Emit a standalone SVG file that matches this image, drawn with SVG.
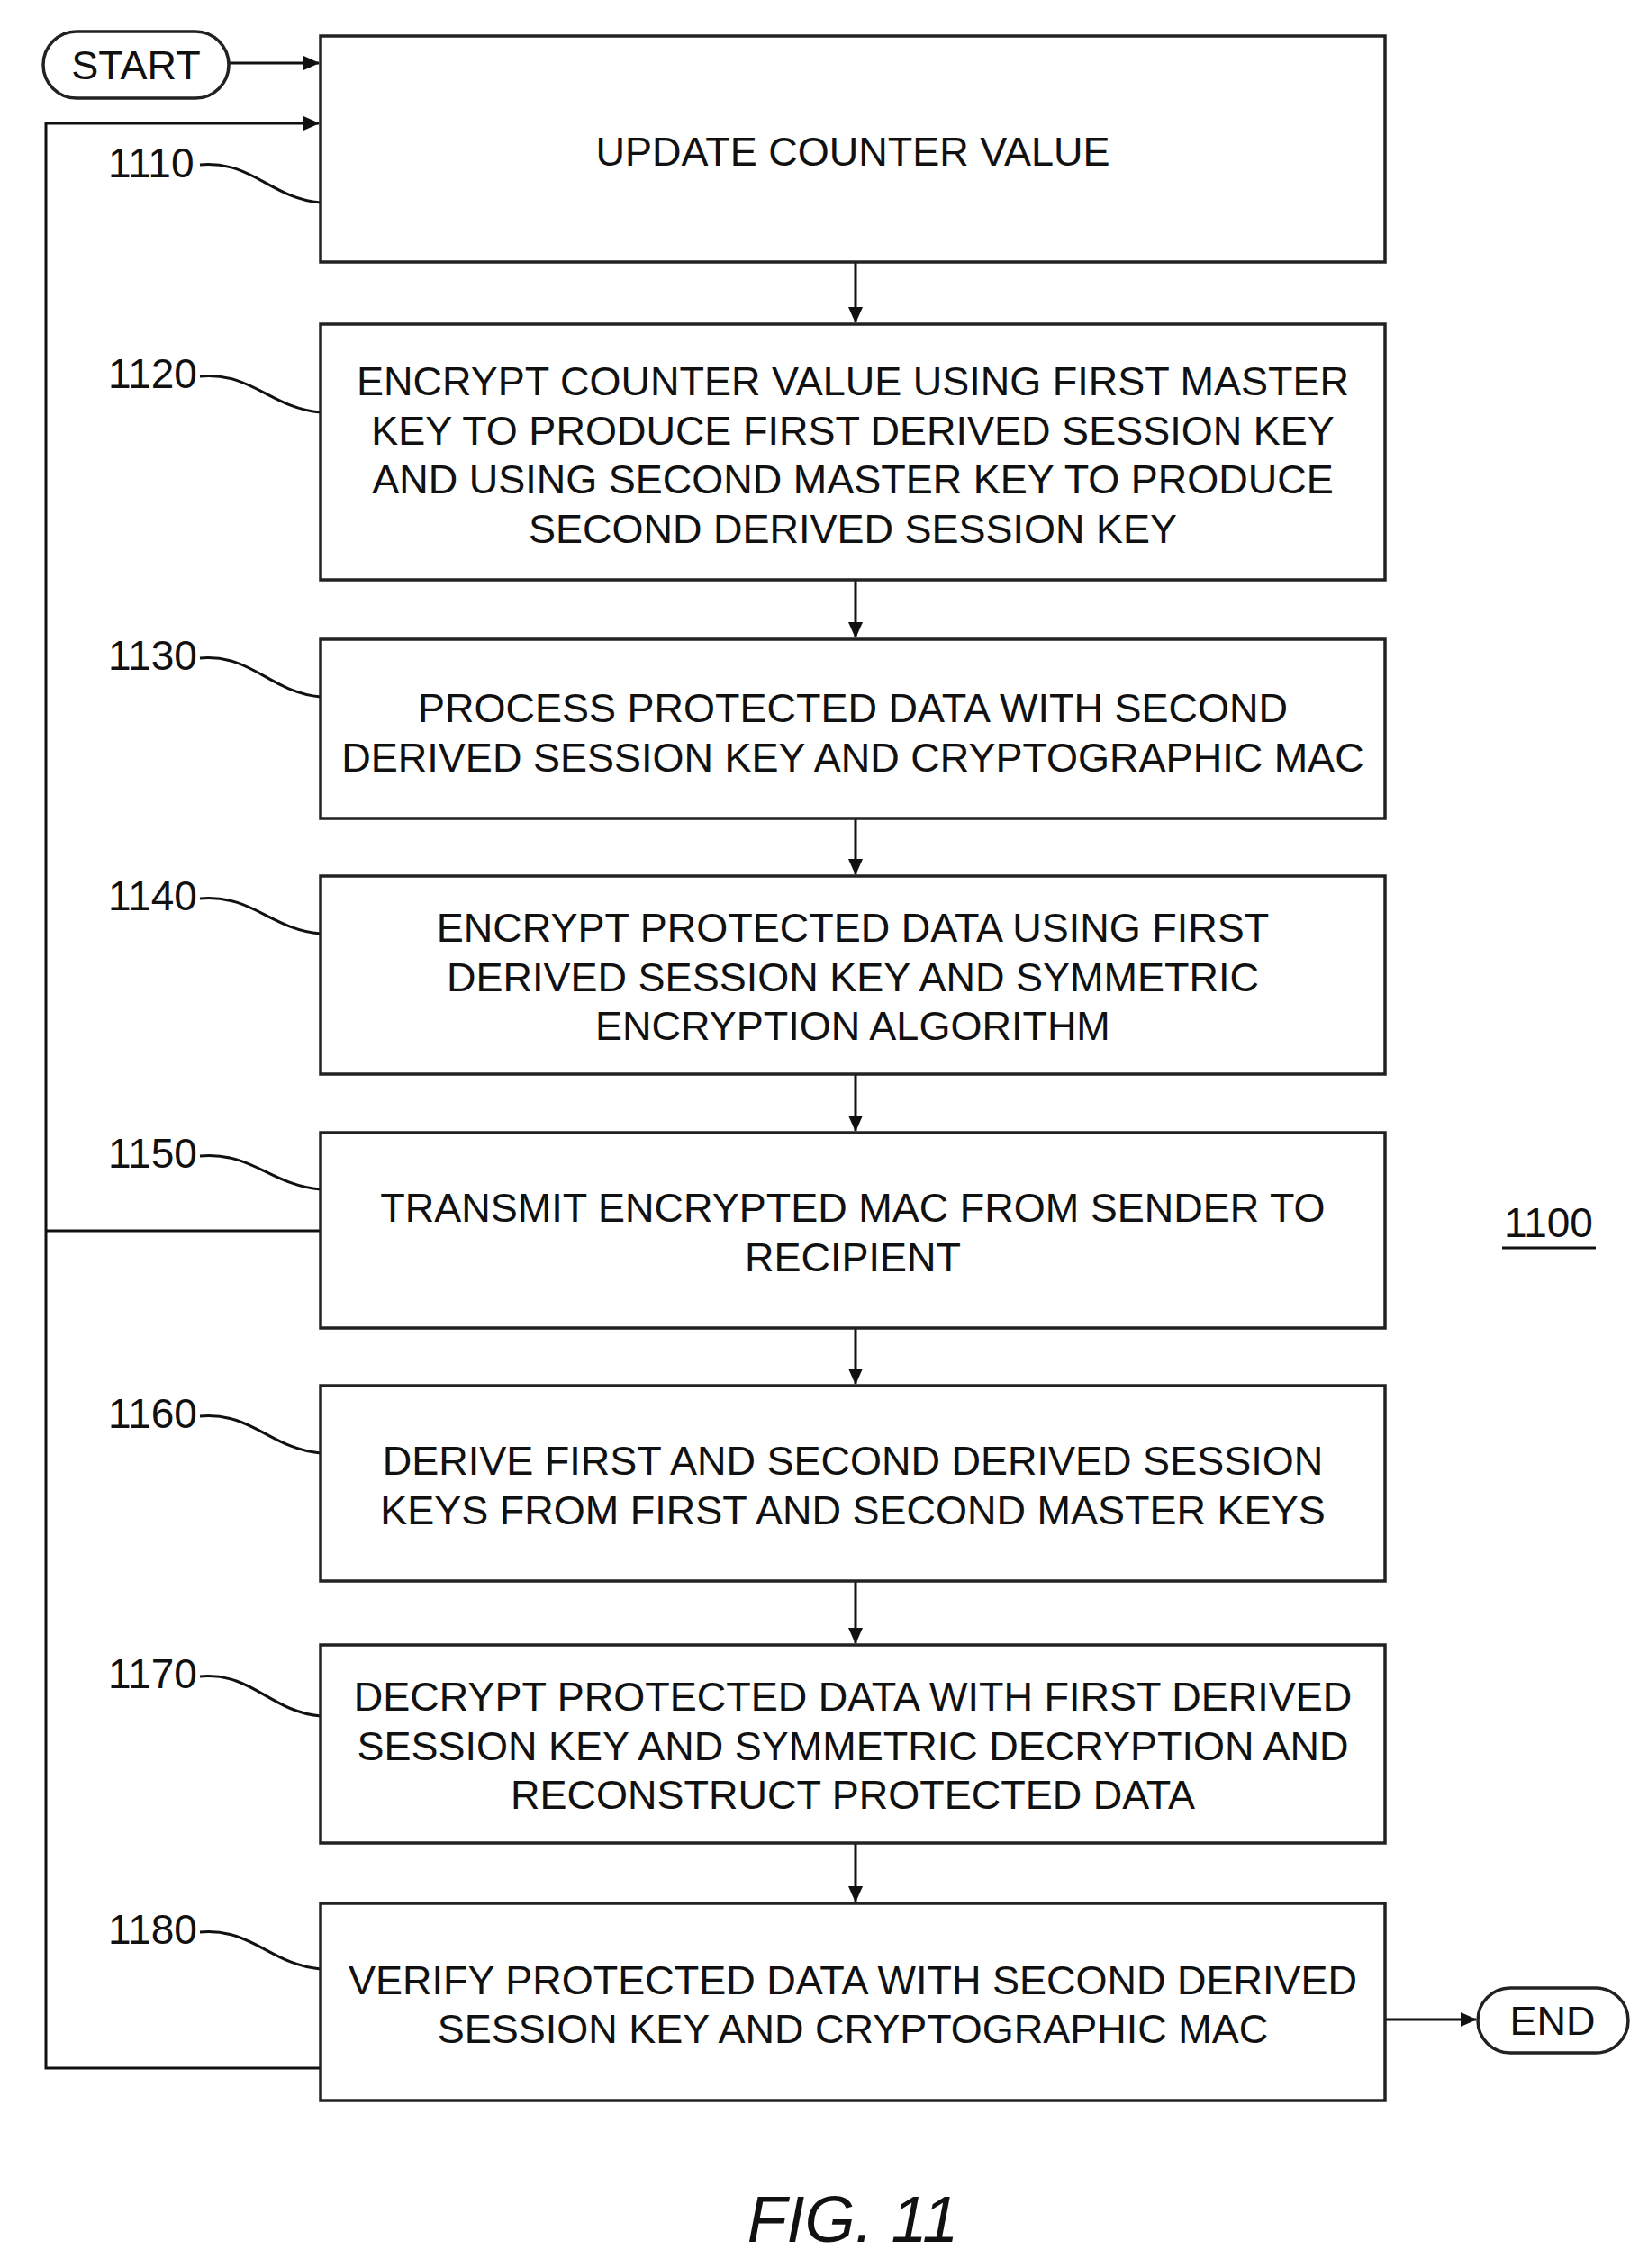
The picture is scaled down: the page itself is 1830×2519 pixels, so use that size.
<svg xmlns="http://www.w3.org/2000/svg" width="1830" height="2519" viewBox="0 0 1830 2519">
<style>
.b{fill:#fff;stroke:#222;stroke-width:3.5}
.t{font-family:"Liberation Sans",Arial,sans-serif;font-size:45px;fill:#111;text-anchor:middle}
.l{font-family:"Liberation Sans",Arial,sans-serif;font-size:46px;fill:#111}
.c{fill:none;stroke:#111;stroke-width:3}
</style>
<defs><marker id="a" markerWidth="18" markerHeight="16" refX="17" refY="8" orient="auto" markerUnits="userSpaceOnUse"><path d="M0,0L18,8L0,16z" fill="#111"/></marker></defs>
<g id="connectors" class="c">
<path d="M254,70H354" marker-end="url(#a)"/>
<path d="M356,2297H51V137H354" marker-end="url(#a)"/>
<path d="M356,1367H51"/>
<path d="M950,291V358" marker-end="url(#a)"/>
<path d="M950,644V708" marker-end="url(#a)"/>
<path d="M950,909V971" marker-end="url(#a)"/>
<path d="M950,1193V1256" marker-end="url(#a)"/>
<path d="M950,1475V1537" marker-end="url(#a)"/>
<path d="M950,1756V1825" marker-end="url(#a)"/>
<path d="M950,2047V2112" marker-end="url(#a)"/>
<path d="M1538,2243H1639" marker-end="url(#a)"/>
<path d="M222,183C280,178 300,220 356,225"/>
<path d="M222,418C280,413 300,453 356,458"/>
<path d="M222,731C280,726 300,769 356,774"/>
<path d="M222,998C280,993 300,1032 356,1037"/>
<path d="M222,1284C280,1279 300,1316 356,1321"/>
<path d="M222,1573C280,1568 300,1609 356,1614"/>
<path d="M222,1862C280,1857 300,1901 356,1906"/>
<path d="M222,2146C280,2141 300,2182 356,2187"/>
</g>
<g id="start"><rect x="48" y="35" width="206" height="74" rx="37" class="b"/><text x="151" y="88" class="t">START</text></g>
<g id="end"><rect x="1641" y="2208" width="167" height="72" rx="36" class="b"/><text x="1724" y="2260" class="t">END</text></g>
<g id="n1110"><rect x="356" y="40" width="1182" height="251" class="b"/><text x="947" y="184" class="t">UPDATE COUNTER VALUE</text><text x="120" y="197" class="l">1110</text></g>
<g id="n1120"><rect x="356" y="360" width="1182" height="284" class="b"/><text class="t" x="947" y="439">ENCRYPT COUNTER VALUE USING FIRST MASTER</text><text class="t" x="947" y="494">KEY TO PRODUCE FIRST DERIVED SESSION KEY</text><text class="t" x="947" y="548">AND USING SECOND MASTER KEY TO PRODUCE</text><text class="t" x="947" y="603">SECOND DERIVED SESSION KEY</text><text x="120" y="431" class="l">1120</text></g>
<g id="n1130"><rect x="356" y="710" width="1182" height="199" class="b"/><text class="t" x="947" y="802">PROCESS PROTECTED DATA WITH SECOND</text><text class="t" x="947" y="857">DERIVED SESSION KEY AND CRYPTOGRAPHIC MAC</text><text x="120" y="744" class="l">1130</text></g>
<g id="n1140"><rect x="356" y="973" width="1182" height="220" class="b"/><text class="t" x="947" y="1046">ENCRYPT PROTECTED DATA USING FIRST</text><text class="t" x="947" y="1101">DERIVED SESSION KEY AND SYMMETRIC</text><text class="t" x="947" y="1155">ENCRYPTION ALGORITHM</text><text x="120" y="1011" class="l">1140</text></g>
<g id="n1150"><rect x="356" y="1258" width="1182" height="217" class="b"/><text class="t" x="947" y="1357">TRANSMIT ENCRYPTED MAC FROM SENDER TO</text><text class="t" x="947" y="1412">RECIPIENT</text><text x="120" y="1297" class="l">1150</text></g>
<g id="n1160"><rect x="356" y="1539" width="1182" height="217" class="b"/><text class="t" x="947" y="1638">DERIVE FIRST AND SECOND DERIVED SESSION</text><text class="t" x="947" y="1693">KEYS FROM FIRST AND SECOND MASTER KEYS</text><text x="120" y="1586" class="l">1160</text></g>
<g id="n1170"><rect x="356" y="1827" width="1182" height="220" class="b"/><text class="t" x="947" y="1900">DECRYPT PROTECTED DATA WITH FIRST DERIVED</text><text class="t" x="947" y="1955">SESSION KEY AND SYMMETRIC DECRYPTION AND</text><text class="t" x="947" y="2009">RECONSTRUCT PROTECTED DATA</text><text x="120" y="1875" class="l">1170</text></g>
<g id="n1180"><rect x="356" y="2114" width="1182" height="219" class="b"/><text class="t" x="947" y="2215">VERIFY PROTECTED DATA WITH SECOND DERIVED</text><text class="t" x="947" y="2269">SESSION KEY AND CRYPTOGRAPHIC MAC</text><text x="120" y="2159" class="l">1180</text></g>
<g id="ref"><text x="1670" y="1374" class="l">1100</text><path d="M1668,1386H1772" class="c"/></g>
<text x="947" y="2490" font-family="Liberation Sans,Arial,sans-serif" font-style="italic" font-size="72" text-anchor="middle" fill="#111">FIG. 11</text>
</svg>
